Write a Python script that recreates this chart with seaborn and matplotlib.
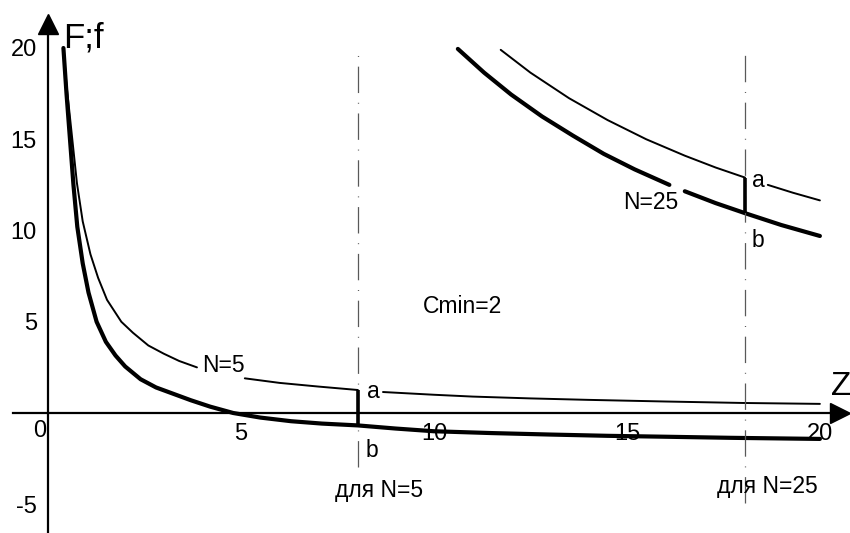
import pandas as pd
import matplotlib.pyplot as plt
import seaborn as sns

# values
# N=5, upper curve F (thin), broken by the labels "N=5" and "a"
z5_F1 = [0.40, 0.48, 0.62, 0.75, 0.90, 1.1, 1.3, 1.53, 1.9, 2.2, 2.6, 3.0, 3.4, 3.86]
F5_1 = [20.0, 18.0, 15.2, 12.6, 10.5, 8.7, 7.4, 6.2, 5.0, 4.4, 3.7, 3.25, 2.85, 2.5]
z5_F2 = [5.1, 6.0, 7.0, 8.03]
F5_2 = [1.9, 1.65, 1.45, 1.26]
z5_F3 = [8.68, 10.0, 11.0, 12.5, 14.0, 16.0, 18.0, 20.0]
F5_3 = [1.15, 1.0, 0.9, 0.8, 0.72, 0.63, 0.55, 0.5]

# N=5, lower curve f (thick)
z5_f = [0.40, 0.48, 0.57, 0.66, 0.76, 0.9, 1.05, 1.26, 1.5, 1.75, 2.0, 2.4, 2.8,
        3.25, 3.7, 4.2, 4.8, 5.5, 6.3, 7.1, 8.03, 9.0, 10.0, 11.5, 13.0, 14.5,
        16.0, 17.7, 20.0]
f5 = [20.0, 17.5, 15.0, 12.5, 10.2, 8.2, 6.6, 5.0, 3.9, 3.15, 2.55, 1.85, 1.4,
      1.05, 0.7, 0.35, 0.0, -0.25, -0.45, -0.58, -0.68, -0.85, -1.0, -1.1, -1.18,
      -1.25, -1.3, -1.36, -1.42]

# N=25, upper curve F (thin), broken by the label "a"
z25_F1 = [11.73, 12.5, 13.5, 14.5, 15.5, 16.5, 17.3, 18.06]
F25_1 = [19.9, 18.65, 17.25, 16.05, 15.0, 14.1, 13.45, 12.9]
z25_F2 = [18.65, 19.3, 20.0]
F25_2 = [12.5, 12.07, 11.65]

# N=25, lower curve f (thick), broken by the label "N=25"
z25_f1 = [10.62, 11.3, 12.0, 12.8, 13.6, 14.4, 15.2, 16.1]
f25_1 = [19.95, 18.65, 17.45, 16.25, 15.2, 14.2, 13.35, 12.5]
z25_f2 = [16.5, 17.3, 18.06, 19.0, 20.0]
f25_2 = [12.15, 11.5, 10.95, 10.3, 9.7]

# optimum points Z for each N and the gap a-b there
z_opt = [8.03, 18.06]
a_opt = [1.26, 12.9]
b_opt = [-0.68, 10.95]

x_ticks = [5, 10, 15, 20]
y_ticks = [-5, 5, 10, 15, 20]

sns.set_style('white')
plt.rcParams['font.family'] = ['Liberation Sans', 'DejaVu Sans']
plt.rcParams['lines.scale_dashes'] = False
plt.rcParams['axes.unicode_minus'] = False
plt.rcParams['text.color'] = 'black'

fig = plt.figure(figsize=(8.5, 5.33), dpi=100)
ax = fig.add_axes([0, 0, 1, 1])
ax.set_xlim(-1.243, 20.78)
ax.set_ylim(-6.575, 22.63)

thin = [(z5_F1, F5_1), (z5_F2, F5_2), (z5_F3, F5_3), (z25_F1, F25_1), (z25_F2, F25_2)]
thick = [(z5_f, f5), (z25_f1, f25_1), (z25_f2, f25_2)]
for zz, vv in thin:
    sns.lineplot(x=zz, y=vv, ax=ax, color='black', lw=1.4, sort=False, estimator=None)
for zz, vv in thick:
    sns.lineplot(x=zz, y=vv, ax=ax, color='black', lw=3.0, sort=False, estimator=None)

# dash-dot guide lines and the a-b bars
guide = [(0, (19, 7, 0.7, 7))]
ax.vlines(z_opt[0], -2.96, 19.73, color='0.35', lw=0.9, linestyles=guide)
ax.vlines(z_opt[1], -4.93, 19.73, color='0.35', lw=0.9, linestyles=guide)
ax.vlines(z_opt, b_opt, a_opt, color='black', lw=2.6)

# axes through the origin with arrow heads
for side in ['top', 'right']:
    ax.spines[side].set_visible(False)
ax.spines['left'].set_position(('data', 0))
ax.spines['bottom'].set_position(('data', 0))
ax.spines['left'].set_bounds(-6.6, 21.3)
ax.spines['bottom'].set_bounds(-0.9, 20.5)
for side in ['left', 'bottom']:
    ax.spines[side].set_linewidth(1.6)
    ax.spines[side].set_color('black')
ax.plot([0], [21.3], marker='^', ms=15, color='black', clip_on=False)
ax.plot([20.52], [0], marker='>', ms=14, color='black', clip_on=False)

ax.set_xticks(x_ticks)
ax.set_yticks(y_ticks)
ax.tick_params(direction='inout', length=10, width=1.3, labelsize=17, pad=3,
               colors='black')
ax.tick_params(axis='x', pad=2)

fs = 16.5
ax.text(0.39, 20.05, 'F;f', fontsize=25)
ax.text(20.3, 0.99, 'Z', fontsize=24)
ax.text(-0.39, -1.3, '0', fontsize=17)
ax.text(3.99, 2.25, 'N=5', fontsize=fs)
ax.text(14.9, 11.18, 'N=25', fontsize=fs)
ax.text(8.26, 0.82, 'a', fontsize=fs)
ax.text(8.24, -2.41, 'b', fontsize=fs)
ax.text(18.24, 12.38, 'a', fontsize=fs)
ax.text(18.24, 9.1, 'b', fontsize=fs)
ax.text(9.72, 5.48, 'Cmin=2', fontsize=fs)
ax.text(7.44, -4.6, 'для N=5', fontsize=fs)
ax.text(17.33, -4.38, 'для N=25', fontsize=fs)

ax.set_xlabel('')
ax.set_ylabel('')
fig.savefig('out.png', dpi=100)
